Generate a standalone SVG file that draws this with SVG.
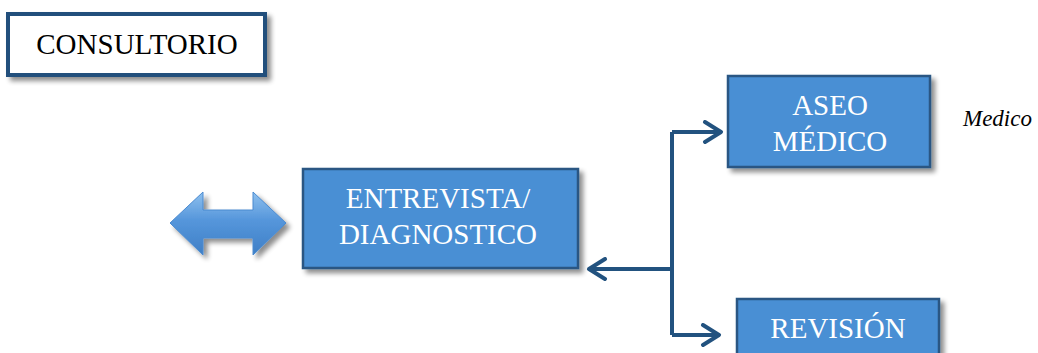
<svg xmlns="http://www.w3.org/2000/svg" width="1038" height="353" viewBox="0 0 1038 353">
<defs>
<filter id="sh" x="-10%" y="-10%" width="130%" height="140%">
<feGaussianBlur in="SourceAlpha" stdDeviation="2.5"/>
<feOffset dx="4" dy="4" result="b"/>
<feComponentTransfer><feFuncA type="linear" slope="0.45"/></feComponentTransfer>
<feMerge><feMergeNode/><feMergeNode in="SourceGraphic"/></feMerge>
</filter>
<linearGradient id="ag" x1="0" y1="0" x2="0" y2="1">
<stop offset="0" stop-color="#8ec0ee"/>
<stop offset="0.45" stop-color="#5596db"/>
<stop offset="1" stop-color="#3f7fc6"/>
</linearGradient>
<marker id="chev" viewBox="0 0 12 12" refX="10" refY="6" markerWidth="6" markerHeight="6" markerUnits="strokeWidth" orient="auto">
<path d="M2,1 L10,6 L2,11" fill="none" stroke="#22527f" stroke-width="2" stroke-linecap="round" stroke-linejoin="round"/>
</marker>
<style>
.box{fill:#4a8fd4;stroke:#2a5783;stroke-width:2.5}
.wt{fill:#ffffff;font-family:"Liberation Serif","Times New Roman",serif;font-size:29px;text-anchor:middle}
.bt{fill:#000000;font-family:"Liberation Serif","Times New Roman",serif}
.conn{fill:none;stroke:#22527f;stroke-width:4}
</style>
</defs>
<g id="consultorio">
<rect x="8" y="14" width="257" height="61" fill="#ffffff" stroke="#24507c" stroke-width="4" filter="url(#sh)"/>
<text class="bt" x="137" y="54" font-size="29" text-anchor="middle">CONSULTORIO</text>
</g>
<g id="double-arrow" filter="url(#sh)">
<path d="M170,223 L203,192 L203,210 L253,210 L253,192 L286,223 L253,255 L253,238 L203,238 L203,255 Z" fill="url(#ag)" stroke="#4a8ad0" stroke-width="1"/>
</g>
<g id="entrevista">
<rect class="box" x="303" y="169" width="275" height="99" filter="url(#sh)"/>
<text class="wt" x="438" y="208">ENTREVISTA/</text>
<text class="wt" x="438" y="244">DIAGNOSTICO</text>
</g>
<g id="aseo">
<rect class="box" x="728" y="76" width="202" height="91" filter="url(#sh)"/>
<text class="wt" x="830" y="115">ASEO</text>
<text class="wt" x="830" y="151">MÉDICO</text>
</g>
<g id="revision">
<rect class="box" x="737" y="299" width="202" height="70" filter="url(#sh)"/>
<text class="wt" x="838" y="338">REVISIÓN</text>
</g>
<g id="medico-label">
<text class="bt" x="963" y="126" font-size="23" font-style="italic">Medico</text>
</g>
<g id="connectors">
<path class="conn" d="M672,132 L672,335"/>
<path class="conn" d="M672,132 L721,132" marker-end="url(#chev)"/>
<path class="conn" d="M672,335 L719,335" marker-end="url(#chev)"/>
<path class="conn" d="M672,269 L589,269" marker-end="url(#chev)"/>
</g>
</svg>
